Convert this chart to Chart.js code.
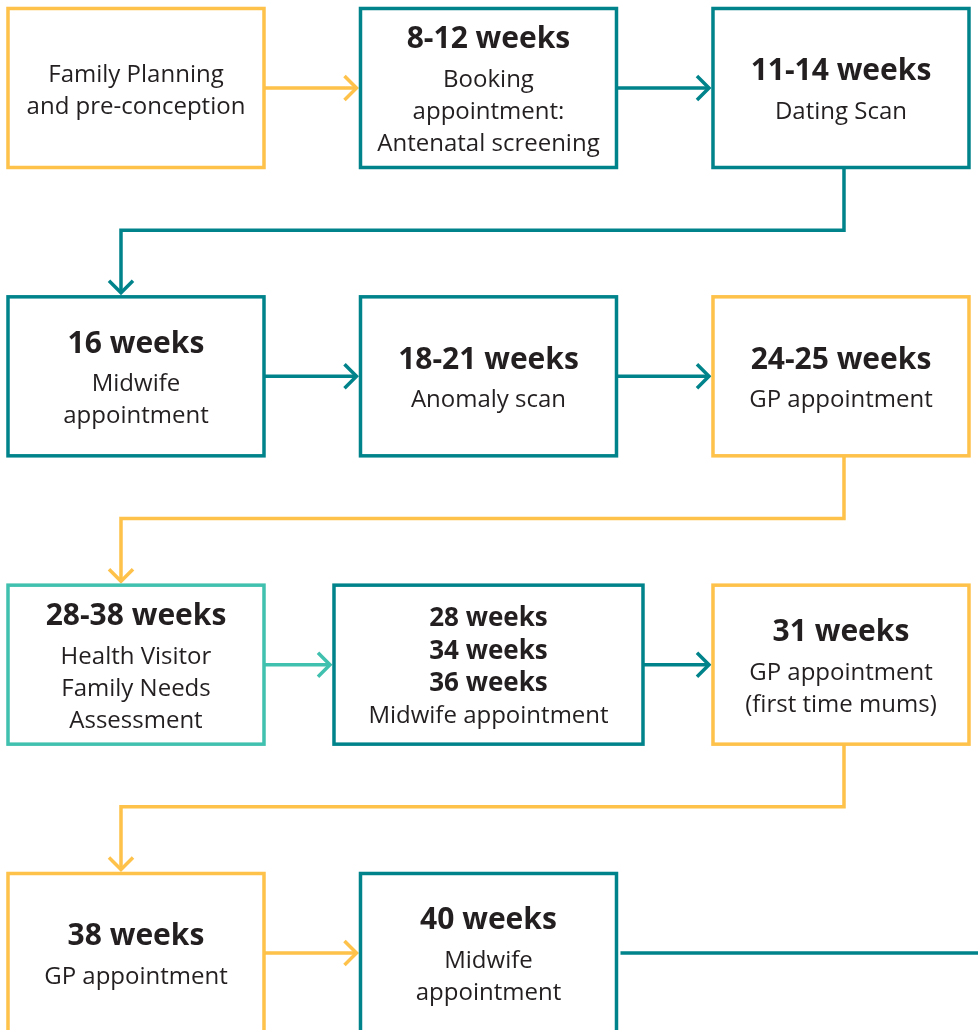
<!DOCTYPE html>
<html>
<head>
<meta charset="utf-8">
<script src="https://cdn.jsdelivr.net/npm/chart.js@4/dist/chart.umd.min.js"></script>
<style>
  html, body { margin: 0; padding: 0; background: #fff; }
  canvas { display: block; }
</style>
</head>
<body>
<canvas id="c" width="978" height="1030"></canvas>
<script>
// pathway steps, in order
const stepTitles = ['', '8-12 weeks', '11-14 weeks', '16 weeks', '18-21 weeks', '24-25 weeks',
  '28-38 weeks', '28 weeks\n34 weeks\n36 weeks', '31 weeks', '38 weeks', '40 weeks']
const stepNotes = ['Family Planning\nand pre-conception', 'Booking\nappointment:\nAntenatal screening',
  'Dating Scan', 'Midwife\nappointment', 'Anomaly scan', 'GP appointment',
  'Health Visitor\nFamily Needs\nAssessment', 'Midwife appointment', 'GP appointment\n(first time mums)',
  'GP appointment', 'Midwife\nappointment']
const stepCol = [0, 1, 2, 0, 1, 2, 0, 1, 2, 0, 1]
const stepRow = [0, 0, 0, 1, 1, 1, 2, 2, 2, 3, 3]
const stepService = ['gp', 'midwife', 'midwife', 'midwife', 'midwife', 'gp', 'hv', 'midwife', 'gp', 'gp', 'midwife']

// styling
const colours = { gp: '#fec149', midwife: '#00838a', hv: '#40c0ae' }
const boxW = 256, boxH = 159, wideW = 309, lw = 3.5
const wideSteps = [7]
const font = "'Open Sans', 'Noto Sans', sans-serif"
const ink = '#231f20'

function arrowHead(ctx, x, y, dir) {
  const a = 12
  ctx.beginPath()
  if (dir == 'right') { ctx.moveTo(x - a, y - a); ctx.lineTo(x, y); ctx.lineTo(x - a, y + a) }
  else { ctx.moveTo(x - a, y - a); ctx.lineTo(x, y); ctx.lineTo(x + a, y - a) }
  ctx.stroke()
}

const flowPlugin = {
  id: 'flow',
  afterDatasetsDraw(chart) {
    const ctx = chart.ctx
    const pts = chart.getDatasetMeta(0).data
    const w = i => wideSteps.includes(i) ? wideW : boxW
    ctx.save()
    ctx.lineWidth = lw
    ctx.lineCap = 'butt'
    ctx.lineJoin = 'miter'

    // connectors
    for (let i = 0; i < pts.length; i++) {
      const p = pts[i]
      ctx.strokeStyle = colours[stepService[i]]
      if (i == pts.length - 1) {
        ctx.beginPath()
        ctx.moveTo(p.x + w(i) / 2 + 4, p.y)
        ctx.lineTo(chart.chartArea.right, p.y)
        ctx.stroke()
        continue
      }
      const q = pts[i + 1]
      if (stepRow[i + 1] == stepRow[i]) {
        const x0 = p.x + w(i) / 2, x1 = q.x - w(i + 1) / 2 - 4
        ctx.beginPath(); ctx.moveTo(x0, p.y); ctx.lineTo(x1, p.y); ctx.stroke()
        arrowHead(ctx, x1, p.y, 'right')
      } else {
        // elbow down to the next row, landing a little left of centre
        const y0 = p.y + boxH / 2, y1 = q.y - boxH / 2 - 4
        const ym = (y0 + y1) / 2
        const xs = p.x + 3, xe = q.x - 15
        ctx.beginPath()
        ctx.moveTo(xs, y0); ctx.lineTo(xs, ym); ctx.lineTo(xe, ym); ctx.lineTo(xe, y1)
        ctx.stroke()
        arrowHead(ctx, xe, y1, 'down')
      }
    }

    // boxes and text
    ctx.textAlign = 'center'
    ctx.textBaseline = 'alphabetic'
    for (let i = 0; i < pts.length; i++) {
      const p = pts[i]
      ctx.fillStyle = '#fff'
      ctx.strokeStyle = colours[stepService[i]]
      ctx.fillRect(p.x - w(i) / 2, p.y - boxH / 2, w(i), boxH)
      ctx.strokeRect(p.x - w(i) / 2, p.y - boxH / 2, w(i), boxH)

      const titles = stepTitles[i] ? stepTitles[i].split('\n') : []
      const multi = titles.length > 1
      const lines = []
      titles.forEach((t, k) => lines.push({ t, bold: true, size: multi ? 26 : 30, gap: k ? 32.5 : 0 }))
      stepNotes[i].split('\n').forEach((t, k) => lines.push({
        t, bold: false, size: 24,
        gap: lines.length == 0 ? 0 : (k == 0 && !multi ? 38.5 : 32)
      }))
      const total = lines.reduce((s, l) => s + l.gap, 0)
      const cap0 = lines[0].size * 0.714
      let base = p.y - total / 2 + cap0 / 2 + 1
      ctx.fillStyle = ink
      lines.forEach(l => {
        base += l.gap
        ctx.font = (l.bold ? 'bold ' : '') + l.size + 'px ' + font
        ctx.fillText(l.t, p.x, base)
      })
    }
    ctx.restore()
  }
}

new Chart(document.getElementById('c'), {
  type: 'scatter',
  data: {
    datasets: [{
      data: stepCol.map((c, i) => ({ x: c, y: stepRow[i] })),
      pointRadius: 0
    }]
  },
  options: {
    responsive: false,
    devicePixelRatio: 1,
    animation: false,
    layout: { padding: 0 },
    plugins: { legend: { display: false }, tooltip: { enabled: false } },
    scales: {
      x: { type: 'linear', display: false, min: -0.3858, max: 2.3887 },
      y: { type: 'linear', display: false, reverse: true, min: -0.3052, max: 3.2671 }
    }
  },
  plugins: [flowPlugin]
})
</script>
</body>
</html>
